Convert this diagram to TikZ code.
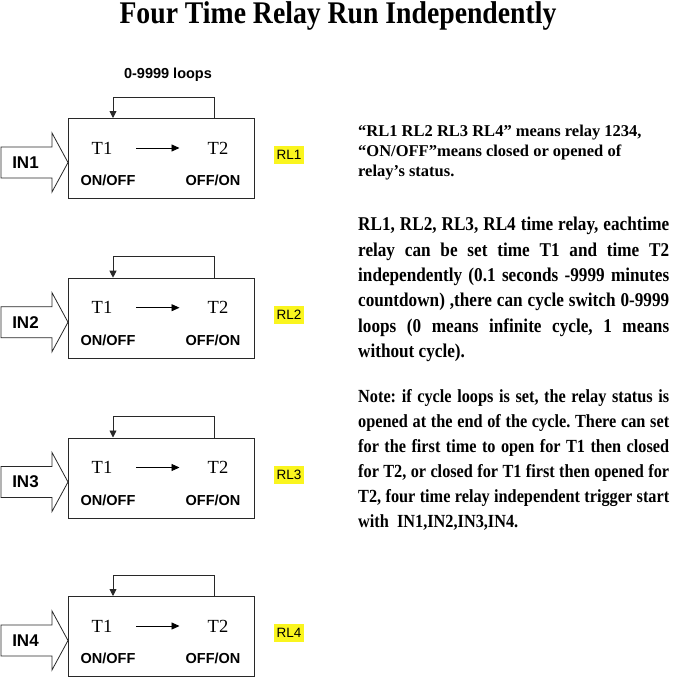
\documentclass[tikz,border=0pt]{standalone}
\usepackage{fontspec}
\setmainfont{Liberation Serif}
\setsansfont{Liberation Sans}
\newfontfamily\narrowserif[FakeStretch=0.88]{Liberation Serif}
\usetikzlibrary{arrows.meta, positioning, calc}
\definecolor{relayyellow}{RGB}{250,245,30}
\definecolor{linegray}{RGB}{40,40,40}
\frenchspacing

\newcommand{\fitline}[1]{\makebox[311pt][s]{#1}}

\begin{document}
\begin{tikzpicture}[
    x=1pt, y=-1pt,
    % Node Styles
    relaybox/.style={
        rectangle,
        draw=linegray,
        line width=0.9pt,
        minimum width=186pt,
        minimum height=80pt,
        anchor=north west,
        inner sep=0pt
    },
    timelabel/.style={font=\fontsize{18.5}{18}\selectfont, inner sep=0pt},
    statelabel/.style={font=\sffamily\bfseries\fontsize{14.5}{15}\selectfont, inner sep=0pt},
    relaytag/.style={
        fill=relayyellow,
        font=\sffamily\fontsize{13.5}{14}\selectfont,
        minimum width=30pt,
        minimum height=18pt,
        inner sep=0pt
    },
    inlabel/.style={font=\sffamily\bfseries\fontsize{17}{17}\selectfont, inner sep=0pt},
    notetext/.style={
        anchor=north west,
        align=left,
        inner sep=0pt,
        font=\narrowserif\bfseries\fontsize{19.5}{25.4}\selectfont
    },
    % Line Styles
    inarrow/.style={draw=linegray, line width=0.8pt, fill=white, line join=miter},
    loopline/.style={draw=linegray, line width=0.9pt, -{Triangle[length=7pt,width=7pt]}},
    steparrow/.style={
        draw=black,
        line width=0.9pt,
        -{Triangle[length=8pt,width=7pt]},
        shorten <=24pt,
        shorten >=28pt
    }
]

    \useasboundingbox (0,0) rectangle (679,680);

    % --- Title ---
    \node[font=\narrowserif\bfseries\fontsize{31.5}{32}\selectfont, inner sep=0pt] (title) at (338,16) {Four Time Relay Run Independently};

    % --- The four relay blocks ---
    \foreach \i/\ytop in {1/118, 2/277.7, 3/437.5, 4/596}{
        \node[relaybox] (box\i) at (68,\ytop) {};

        % times and states
        \node[timelabel] (ta\i) at ($(box\i.north west)+(34,30)$) {T1};
        \node[timelabel] (tb\i) at ($(box\i.north west)+(150,30)$) {T2};
        \draw[steparrow] (ta\i.east) -- (tb\i.west);
        \node[statelabel] (on\i) at ($(box\i.north west)+(40,62.5)$) {ON/OFF};
        \node[statelabel] (off\i) at ($(box\i.north west)+(145,62.5)$) {OFF/ON};

        % cycle loop back to T1
        \coordinate (out\i) at ($(box\i.north west)+(146,0)$);
        \coordinate (back\i) at ($(box\i.north west)+(45,0)$);
        \draw[loopline] (out\i) -- ++(0,-21) -| (back\i);

        % input arrow
        \coordinate (tip\i) at ($(box\i.north west)+(0,44.5)$);
        \draw[inarrow] (tip\i) -- ++(-16,-29.5) -- ++(0,14) -- ++(-51,0) -- ++(0,31)
            -- ++(51,0) -- ++(0,14) -- cycle;
        \node[inlabel] (in\i) at ($(tip\i)+(-42.5,0)$) {IN\i};

        % relay output
        \node[relaytag] (rl\i) at ($(box\i.north west)+(221,37)$) {RL\i};
    }

    \node[statelabel] (loops) at ($(box1.north west)+(100,-43)$) {0-9999 loops};

    % --- Notes ---
    \node[notetext, font=\bfseries\fontsize{16.5}{20}\selectfont] (note1) at (358,125) {%
        “RL1 RL2 RL3 RL4” means relay 1234,\\
        “ON/OFF”means closed or opened of\\
        relay’s status.};

    \node[notetext] (note2) at (358,217) {%
        \fitline{RL1, RL2, RL3, RL4 time relay, eachtime}\\
        \fitline{relay can be set time T1 and time T2}\\
        \fitline{independently (0.1 seconds -9999 minutes}\\
        \fitline{countdown) ,there can cycle switch 0-9999}\\
        \fitline{loops (0 means infinite cycle, 1 means}\\
        without cycle).};

    \node[notetext, font=\narrowserif\bfseries\fontsize{18.5}{25}\selectfont] (note3) at (358,389) {%
        \fitline{Note: if cycle loops is set, the relay status is}\\
        \fitline{opened at the end of the cycle. There can set}\\
        \fitline{for the first time to open for T1 then closed}\\
        \fitline{for T2, or closed for T1 first then opened for}\\
        \fitline{T2, four time relay independent trigger start}\\
        with\ \ IN1,IN2,IN3,IN4.};

\end{tikzpicture}
\end{document}
